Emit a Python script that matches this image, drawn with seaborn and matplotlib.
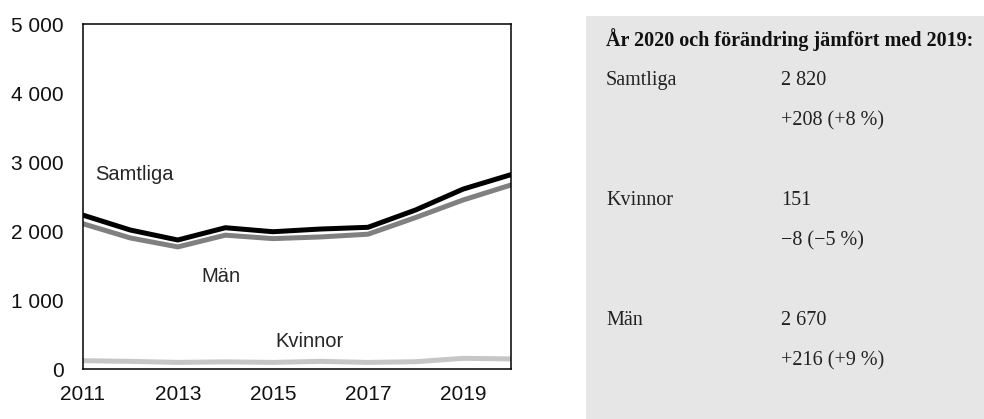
import numpy as np
import pandas as pd
import matplotlib
matplotlib.use("Agg")
import matplotlib.pyplot as plt
import matplotlib.ticker as mticker
import matplotlib.patheffects as pe
from matplotlib.patches import Rectangle
import seaborn as sns

# data
years = [2011, 2012, 2013, 2014, 2015, 2016, 2017, 2018, 2019, 2020]
samtliga = [2236, 2019, 1874, 2052, 1994, 2033, 2058, 2309, 2612, 2820]
man = [2111, 1904, 1774, 1944, 1894, 1918, 1958, 2199, 2454, 2670]
kvinnor = [125, 115, 100, 108, 100, 115, 100, 110, 159, 151]

series_names = ["Samtliga", "Män", "Kvinnor"]
series_colors = ["#000000", "#808080", "#c6c6c6"]

box_title = "År 2020 och förändring jämfört med 2019:"
box_rows = [
    ("Samtliga", "2 820", "+208 (+8 %)"),
    ("Kvinnor", "151", "\u22128 (\u22125 %)"),
    ("Män", "2 670", "+216 (+9 %)"),
]

sns.set_style("white")
plt.rcParams["font.family"] = ["Liberation Sans", "DejaVu Sans"]

df = pd.DataFrame({
    "year": years * 3,
    "value": samtliga + man + kvinnor,
    "serie": [n for n in series_names for _ in years],
})

fig = plt.figure(figsize=(9.84, 4.19), dpi=100)
ax = fig.add_axes([0.084, 0.1186, 0.435, 0.8234])

# draw Kvinnor first, Samtliga on top
for name, col in reversed(list(zip(series_names, series_colors))):
    sns.lineplot(data=df[df["serie"] == name], x="year", y="value",
                 color=col, linewidth=3.6, ax=ax, legend=False)
# thin white edge round the black line
ax.lines[-1].set_path_effects([pe.Stroke(linewidth=5.2, foreground="white"),
                               pe.Normal()])

ax.set_xlim(2011, 2020)
ax.set_ylim(0, 5000)
ax.set_xticks(years)
ax.set_xticklabels([str(y) if y % 2 == 1 else "" for y in years])
ax.yaxis.set_major_locator(mticker.MultipleLocator(1000))
ax.yaxis.set_major_formatter(
    mticker.FuncFormatter(lambda v, p: f"{int(v):,}".replace(",", " ")))
ax.set_xlabel("")
ax.set_ylabel("")
ax.tick_params(axis="both", direction="out", length=4.5, width=1,
               color="black", labelsize=15, labelcolor="#111111")
ax.tick_params(axis="x", pad=7)
ax.tick_params(axis="y", pad=9)
for s in ax.spines.values():
    s.set_visible(True)
    s.set_color("black")
    s.set_linewidth(1.1)
    s.set_zorder(5)

# labels on the lines
ax.text(2011.27, 2830, "Samtliga", fontsize=14.5, va="center", ha="left")
ax.text(2013.49, 1350, "Män", fontsize=14.5, va="center", ha="left")
ax.text(2015.06, 410, "Kvinnor", fontsize=14.5, va="center", ha="left")

# grey fact box on the right
W, H = 984, 419
fig.patches.append(Rectangle((586 / W, 0), 1 - 586 / W, 1 - 15.7 / H,
                             transform=fig.transFigure, facecolor="#e6e6e6",
                             edgecolor="none", zorder=0))
serif = ["Liberation Serif", "DejaVu Serif"]
fig.text(606 / W, 1 - 46 / H, box_title, fontsize=14.5, fontweight="bold",
         family=serif, color="#111111", va="baseline")
for i, (lab, val, diff) in enumerate(box_rows):
    y0 = 85 + i * 120
    fig.text(606 / W, 1 - y0 / H, lab, fontsize=14.5, family=serif,
             color="#222222", va="baseline")
    fig.text(781 / W, 1 - y0 / H, val, fontsize=14.5, family=serif,
             color="#222222", va="baseline")
    fig.text(781 / W, 1 - (y0 + 40) / H, diff, fontsize=14.5, family=serif,
             color="#222222", va="baseline")

fig.savefig("out.png", dpi=100)
